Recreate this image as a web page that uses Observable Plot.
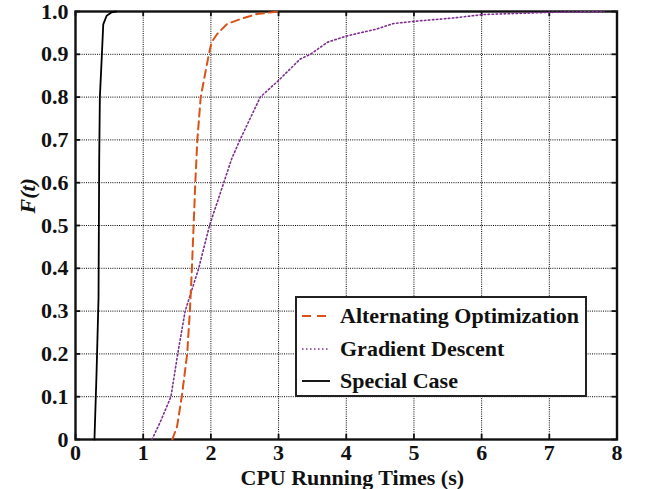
<!DOCTYPE html>
<html>
<head>
<meta charset="utf-8">
<script src="https://cdn.jsdelivr.net/npm/d3@7"></script>
<script src="https://cdn.jsdelivr.net/npm/@observablehq/plot@0.6"></script>
<style>
  html, body { margin: 0; padding: 0; background: #fff; }
  #wrap { position: relative; width: 646px; height: 489px; }
  #legend {
    position: absolute; left: 295px; top: 296px; width: 292px; height: 101px;
    box-sizing: border-box; border: 2px solid #222; background: #fff;
    font-family: "Liberation Serif", "DejaVu Serif", serif; font-weight: bold; font-size: 22px; color: #111;
  }
  .row { position: absolute; left: 0; height: 30px; display: flex; align-items: center; white-space: nowrap; }
  .row svg { margin-left: 5px; margin-right: 10px; }
</style>
</head>
<body>
<div id="wrap"></div>
<script>
// ---- Data ----
const xTicks = [0, 1, 2, 3, 4, 5, 6, 7, 8];
const yTicks = [0, 0.1, 0.2, 0.3, 0.4, 0.5, 0.6, 0.7, 0.8, 0.9, 1.0];

const seriesNames = ["Alternating Optimization", "Gradient Descent", "Special Case"];

// Alternating Optimization (orange dashed)
const aoTimes = [1.43, 1.50, 1.57, 1.65, 1.69, 1.72, 1.745, 1.77, 1.80, 1.85, 1.97, 2.01, 2.09, 2.24, 2.43, 2.68, 3.0];
const aoF     = [0,    0.03, 0.10, 0.20, 0.30, 0.40, 0.50,  0.60, 0.70, 0.80, 0.90, 0.928, 0.947, 0.971, 0.982, 0.994, 1.0];

// Gradient Descent (purple dotted)
const gdTimes = [1.13, 1.25, 1.41, 1.51, 1.62, 1.72, 1.82, 1.98, 2.19, 2.31, 2.43, 2.58, 2.73, 3.0, 3.32, 3.47, 3.72, 4.01, 4.45, 4.70, 5.0, 5.59, 6.03, 7.02, 7.81];
const gdF     = [0,    0.04, 0.10, 0.20, 0.30, 0.35, 0.40, 0.50, 0.60, 0.657, 0.70, 0.75, 0.80, 0.839, 0.889, 0.90, 0.928, 0.943, 0.959, 0.972, 0.977, 0.985, 0.993, 0.998, 1.0];

// Special Case (black solid)
const scTimes = [0.28, 0.31, 0.34, 0.35, 0.36, 0.39, 0.41, 0.46, 0.535, 0.6];
const scF     = [0,    0.15, 0.33, 0.65, 0.80, 0.90, 0.97, 0.99, 0.998, 1.0];

const toRows = (xs, ys) => xs.map((t, i) => ({t, F: ys[i]}));
const ao = toRows(aoTimes, aoF);
const gd = toRows(gdTimes, gdF);
const sc = toRows(scTimes, scF);

const colors = {ao: "#D95319", gd: "#7E2F8E", sc: "#000000"};
const font = "'Liberation Serif', 'DejaVu Serif', serif";

const chart = Plot.plot({
  width: 646,
  height: 489,
  marginLeft: 75,
  marginRight: 29.5,
  marginTop: 11,
  marginBottom: 50,
  style: {fontFamily: font, fontSize: "22px", fontWeight: "bold", color: "#111", background: "#fff"},
  x: {domain: [0, 8]},
  y: {domain: [0, 1]},
  marks: [
    Plot.gridX(xTicks, {stroke: "#000", strokeOpacity: 1, strokeDasharray: "1,1.2", strokeWidth: 1}),
    Plot.gridY(yTicks, {stroke: "#000", strokeOpacity: 1, strokeDasharray: "1,1.2", strokeWidth: 1}),
    Plot.frame({stroke: "#111", strokeWidth: 2.4}),
    // inward tick marks on all four sides
    Plot.ruleX(xTicks, {y1: 0, y2: 0.012, stroke: "#111", strokeWidth: 1.8}),
    Plot.ruleX(xTicks, {y1: 0.988, y2: 1, stroke: "#111", strokeWidth: 1.8}),
    Plot.ruleY(yTicks, {x1: 0, x2: 0.075, stroke: "#111", strokeWidth: 1.8}),
    Plot.ruleY(yTicks, {x1: 7.925, x2: 8, stroke: "#111", strokeWidth: 1.8}),
    Plot.axisX(xTicks, {tickSize: 0, tickPadding: 5, label: null, fontWeight: "bold", fontSize: 22}),
    Plot.axisY(yTicks, {tickSize: 0, tickPadding: 7, label: null, fontWeight: "bold", fontSize: 22,
      tickFormat: d => d === 0 ? "0" : d.toFixed(1)}),
    Plot.line(sc, {x: "t", y: "F", stroke: colors.sc, strokeWidth: 1.8}),
    Plot.line(gd, {x: "t", y: "F", stroke: colors.gd, strokeWidth: 1.6, strokeDasharray: "1.5,2.5"}),
    Plot.line(ao, {x: "t", y: "F", stroke: colors.ao, strokeWidth: 2, strokeDasharray: "8,5"}),
    Plot.text(["CPU Running Times (s)"], {frameAnchor: "bottom", dy: 38, dx: 6, lineAnchor: "middle",
      fontWeight: "bold", fontSize: 22, fill: "#111"}),
    Plot.text(["F(t)"], {frameAnchor: "left", dx: -48, dy: -12, rotate: -90, lineAnchor: "middle",
      fontWeight: "bold", fontStyle: "italic", fontSize: 22, fill: "#111"})
  ]
});

const wrap = document.getElementById("wrap");
wrap.appendChild(chart);

// Legend (HTML overlay)
const legend = document.createElement("div");
legend.id = "legend";
const legendItems = [
  {name: seriesNames[0], color: colors.ao, dash: "9,6", w: 2},
  {name: seriesNames[1], color: colors.gd, dash: "1.5,2.5", w: 1.6},
  {name: seriesNames[2], color: colors.sc, dash: null, w: 1.8}
];
legendItems.forEach((it, i) => {
  const row = document.createElement("div");
  row.className = "row";
  row.style.top = (3 + i * 32.5) + "px";
  const svg = d3.create("svg").attr("width", 28).attr("height", 10);
  svg.append("line").attr("x1", 0).attr("x2", 28).attr("y1", 5).attr("y2", 5)
    .attr("stroke", it.color).attr("stroke-width", it.w)
    .attr("stroke-dasharray", it.dash);
  row.appendChild(svg.node());
  const span = document.createElement("span");
  span.textContent = it.name;
  row.appendChild(span);
  legend.appendChild(row);
});
wrap.appendChild(legend);
</script>
</body>
</html>
